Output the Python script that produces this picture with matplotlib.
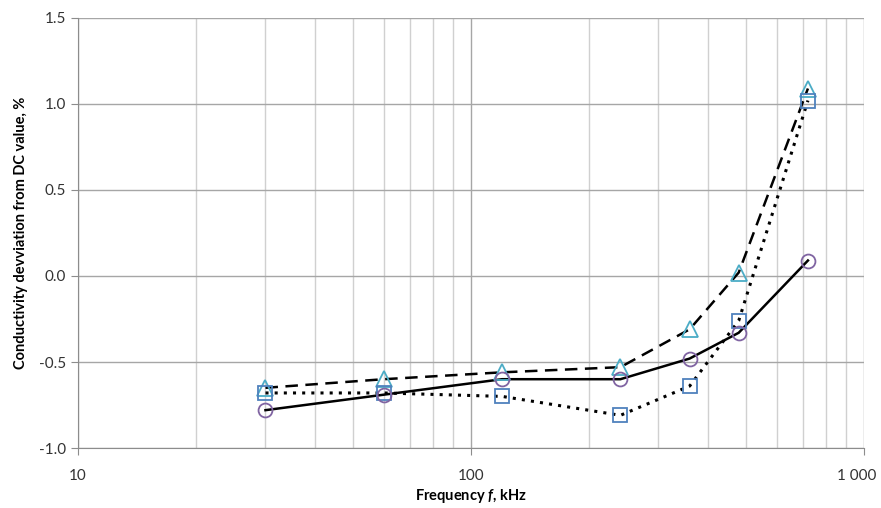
import matplotlib
matplotlib.use("Agg")
import matplotlib.pyplot as plt
import matplotlib.transforms as mtransforms
from matplotlib.ticker import FixedLocator, FuncFormatter, LogLocator, NullFormatter

plt.rcParams['font.family'] = ['Lato', 'DejaVu Sans']
plt.rcParams['mathtext.fontset'] = 'custom'
plt.rcParams['mathtext.it'] = 'Lato:italic:bold'
plt.rcParams['mathtext.rm'] = 'Lato:bold'

# frequency, kHz
freq = [30, 60, 120, 240, 360, 480, 720]
# conductivity deviation from DC, %
dev_triangle = [-0.65, -0.60, -0.56, -0.53, -0.31, 0.02, 1.09]
dev_square = [-0.68, -0.68, -0.70, -0.81, -0.64, -0.26, 1.02]
dev_circle = [-0.78, -0.69, -0.60, -0.60, -0.48, -0.33, 0.09]

fig = plt.figure(figsize=(8.81, 5.08), dpi=100)
ax = fig.add_axes([0.0885, 0.1181, 0.8922, 0.8465])

ax.plot(freq, dev_triangle, color='black', ls=(0, (5, 3)), lw=1.8, zorder=3)
ax.plot(freq, dev_square, color='black', ls=(0, (1, 2)), lw=2.2, zorder=3)
ax.plot(freq, dev_circle, color='black', ls='-', lw=1.8, zorder=3)

ax.plot(freq, dev_triangle, ls='none', marker='^', ms=11, mfc='none', mec='#4bacc6', mew=1.3, zorder=4)
ax.plot(freq, dev_square, ls='none', marker='s', ms=10, mfc='none', mec='#4f81bd', mew=1.3, zorder=4)
ax.plot(freq, dev_circle, ls='none', marker='o', ms=10, mfc='none', mec='#8064a2', mew=1.3, zorder=4)

ax.set_xscale('log')
ax.set_xlim(10, 1000)
ax.set_ylim(-1.0, 1.5)
ax.yaxis.set_major_locator(FixedLocator([-1.0, -0.5, 0.0, 0.5, 1.0, 1.5]))
ax.yaxis.set_major_formatter(FuncFormatter(lambda v, p: f"{v:.1f}"))
ax.xaxis.set_major_locator(FixedLocator([10, 100, 1000]))
ax.xaxis.set_major_formatter(FuncFormatter(lambda v, p: {10: '10', 100: '100', 1000: '1 000'}.get(int(round(v)), '')))
ax.xaxis.set_minor_locator(LogLocator(base=10, subs=range(2, 10)))
ax.xaxis.set_minor_formatter(NullFormatter())

ax.grid(True, which='major', color='#a6a6a6', lw=1.0)
ax.grid(True, which='minor', axis='x', color='#d0d0d0', lw=1.0)
ax.set_axisbelow(True)

for s in ['top', 'right']:
    ax.spines[s].set_visible(False)
for s in ['left', 'bottom']:
    ax.spines[s].set_color('#8c8c8c')
ax.tick_params(axis='both', which='major', direction='out', color='#8c8c8c', length=5, labelsize=11, labelcolor='#333333')
ax.tick_params(axis='x', which='minor', length=0)
ax.tick_params(axis='x', which='major', pad=10)

# nudge the last x label so it stays inside the figure
fig.canvas.draw()
last = ax.get_xticklabels()[-1]
last.set_transform(last.get_transform() + mtransforms.ScaledTranslation(-7 / 100, 0, fig.dpi_scale_trans))

ax.set_xlabel(r'Frequency $\mathit{f}$, kHz', fontsize=10.5, fontweight='bold', labelpad=3)
ax.set_ylabel('Conductivity devviation from DC value, %', fontsize=10.5, fontweight='bold', labelpad=8)

fig.savefig('out.png', dpi=100)
